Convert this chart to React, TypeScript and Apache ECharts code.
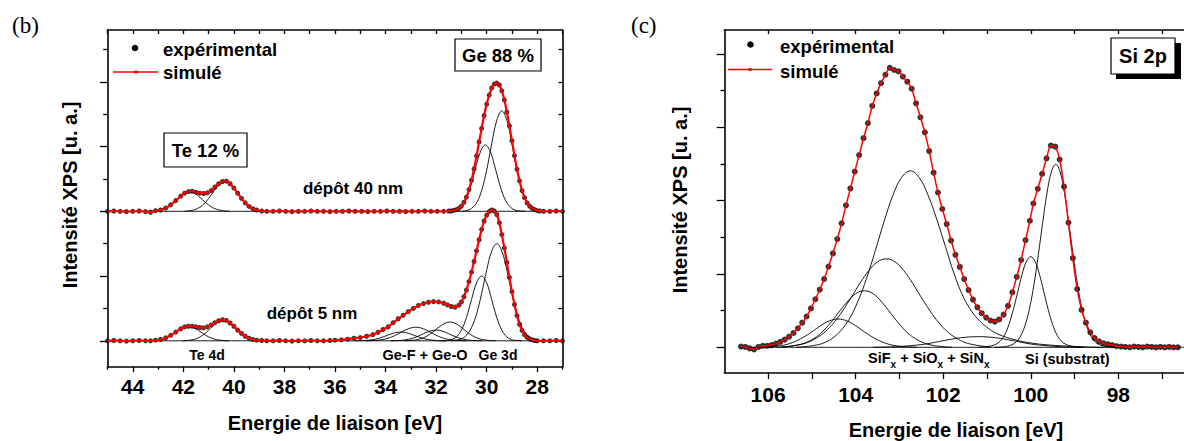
import React, { useEffect, useRef } from "react";
import * as echarts from "echarts";

const FONT = "Arial, 'Liberation Sans', Helvetica, sans-serif";
const SERIF = "'Times New Roman', 'Liberation Serif', serif";

// ---------- tick positions ----------
const geXLabels = [28, 30, 32, 34, 36, 38, 40, 42, 44];
const geXMinor = [27, 29, 31, 33, 35, 37, 39, 41, 43, 45];
const geXAll = [27, 28, 29, 30, 31, 32, 33, 34, 35, 36, 37, 38, 39, 40, 41, 42, 43, 44, 45];
const geYMajor = [0, 2, 4, 6, 8];
const geYMinor = [1, 3, 5, 7, 9];
const geYAll = [0, 1, 2, 3, 4, 5, 6, 7, 8, 9];
const siXLabels = [98, 100, 102, 104, 106];
const siXAll = [97, 98, 99, 100, 101, 102, 103, 104, 105, 106];
const siYMajor = [0, 2, 4, 6, 8];
const siYMinor = [1, 3, 5, 7];

// ---------- (b) Ge/Te spectra: [binding energy eV, intensity] ----------
const expUpper: [number, number][] = [
  [45.0, 4.0], [44.75, 4.01], [44.5, 4.0], [44.25, 3.99], [44.0, 4.0], [43.75, 4.01], [43.5, 3.99], [43.3, 3.97],
  [43.1, 4.02], [42.9, 4.04], [42.7, 4.1], [42.5, 4.2], [42.3, 4.33], [42.1, 4.47], [41.95, 4.56], [41.8, 4.61],
  [41.65, 4.62], [41.5, 4.59], [41.35, 4.56], [41.2, 4.55], [41.05, 4.57], [40.9, 4.64], [40.75, 4.75], [40.6, 4.85],
  [40.45, 4.92], [40.3, 4.93], [40.15, 4.85], [40.0, 4.72], [39.85, 4.56], [39.7, 4.4], [39.55, 4.26], [39.4, 4.15],
  [39.25, 4.08], [39.1, 4.04], [38.9, 4.01], [38.7, 4.0], [38.45, 4.0], [38.2, 4.01], [37.95, 4.0], [37.7, 3.99],
  [37.45, 4.0], [37.2, 4.0], [36.95, 4.01], [36.7, 4.0], [36.45, 4.0], [36.2, 3.99], [35.95, 4.0], [35.7, 4.0],
  [35.45, 4.01], [35.2, 4.0], [34.95, 4.0], [34.7, 3.99], [34.45, 4.0], [34.2, 4.0], [33.95, 4.01], [33.7, 4.0],
  [33.45, 4.0], [33.2, 3.99], [32.95, 4.0], [32.7, 4.0], [32.45, 4.01], [32.2, 4.0], [31.95, 4.0], [31.7, 4.0],
  [31.5, 4.01], [31.4, 4.01], [31.3, 4.03], [31.2, 4.05], [31.1, 4.09], [31.0, 4.16], [30.9, 4.28], [30.8, 4.44],
  [30.7, 4.67], [30.6, 4.96], [30.5, 5.31], [30.4, 5.71], [30.3, 6.14], [30.2, 6.56], [30.1, 6.96], [30.0, 7.31],
  [29.9, 7.59], [29.8, 7.81], [29.7, 7.93], [29.6, 7.96], [29.5, 7.9], [29.4, 7.72], [29.3, 7.44], [29.2, 7.07],
  [29.1, 6.64], [29.0, 6.18], [28.9, 5.72], [28.8, 5.3], [28.7, 4.94], [28.6, 4.64], [28.5, 4.42], [28.4, 4.26],
  [28.3, 4.16], [28.2, 4.09], [28.1, 4.05], [28.0, 4.02], [27.9, 4.01], [27.75, 4.0], [27.5, 4.0], [27.25, 4.01], [27.0, 4.0],
];

const expLower: [number, number][] = [
  [45.0, 0.0], [44.75, 0.01], [44.5, 0.0], [44.25, -0.01], [44.0, 0.0], [43.75, 0.01], [43.5, 0.0], [43.3, 0.0],
  [43.1, 0.02], [42.9, 0.04], [42.7, 0.09], [42.5, 0.17], [42.3, 0.27], [42.1, 0.37], [41.95, 0.43], [41.8, 0.45],
  [41.65, 0.45], [41.5, 0.43], [41.35, 0.41], [41.2, 0.4], [41.05, 0.43], [40.9, 0.49], [40.75, 0.56], [40.6, 0.62],
  [40.45, 0.65], [40.3, 0.63], [40.15, 0.55], [40.0, 0.45], [39.85, 0.33], [39.7, 0.23], [39.55, 0.14], [39.4, 0.08],
  [39.25, 0.04], [39.1, 0.02], [38.9, 0.01], [38.7, 0.0], [38.45, 0.0], [38.2, 0.01], [37.95, 0.0], [37.7, -0.01],
  [37.45, 0.0], [37.2, 0.0], [36.95, 0.01], [36.7, 0.0], [36.45, 0.0], [36.2, 0.01], [36.0, 0.02], [35.75, 0.03],
  [35.5, 0.05], [35.25, 0.08], [35.0, 0.1], [34.75, 0.14], [34.5, 0.19], [34.3, 0.26], [34.1, 0.35], [33.9, 0.43],
  [33.7, 0.56], [33.5, 0.68], [33.3, 0.79], [33.1, 0.9], [32.9, 1.0], [32.7, 1.09], [32.5, 1.15], [32.3, 1.19],
  [32.1, 1.21], [31.9, 1.2], [31.7, 1.16], [31.55, 1.11], [31.4, 1.06], [31.25, 1.04], [31.1, 1.1], [31.0, 1.2],
  [30.9, 1.36], [30.8, 1.57], [30.7, 1.83], [30.6, 2.12], [30.5, 2.45], [30.4, 2.78], [30.3, 3.12], [30.2, 3.44],
  [30.1, 3.7], [30.0, 3.88], [29.9, 3.99], [29.8, 4.04], [29.7, 4.01], [29.6, 3.9], [29.5, 3.65], [29.4, 3.28],
  [29.3, 2.87], [29.2, 2.42], [29.1, 1.96], [29.0, 1.52], [28.9, 1.12], [28.8, 0.78], [28.7, 0.51], [28.6, 0.32],
  [28.5, 0.19], [28.4, 0.11], [28.3, 0.06], [28.2, 0.03], [28.1, 0.01], [28.0, 0.0], [27.75, 0.0], [27.5, 0.0],
  [27.25, 0.01], [27.0, 0.0],
];

const baseUpper: [number, number][] = [[45, 4], [27, 4]];
const baseLower: [number, number][] = [[45, 0], [27, 0]];

const teAUpper: [number, number][] = [
  [43.35, 4], [43.15, 4.012], [42.95, 4.034], [42.75, 4.081], [42.55, 4.167], [42.35, 4.292], [42.15, 4.436], [41.95, 4.554],
  [41.75, 4.6], [41.55, 4.554], [41.35, 4.436], [41.15, 4.292], [40.95, 4.167], [40.75, 4.081], [40.55, 4.034], [40.35, 4.012], [40.15, 4],
];
const teBUpper: [number, number][] = [
  [41.95, 4], [41.75, 4.018], [41.55, 4.052], [41.35, 4.124], [41.15, 4.256], [40.95, 4.448], [40.75, 4.668], [40.55, 4.849],
  [40.35, 4.92], [40.15, 4.849], [39.95, 4.668], [39.75, 4.448], [39.55, 4.256], [39.35, 4.124], [39.15, 4.052], [38.95, 4.018], [38.75, 4],
];
const geAUpper: [number, number][] = [
  [31.0, 4], [30.8, 4.02], [30.6, 4.09], [30.4, 4.26], [30.2, 4.64], [30.0, 5.27], [29.8, 6.09], [29.6, 6.81],
  [29.4, 7.1], [29.2, 6.81], [29.0, 6.09], [28.8, 5.27], [28.6, 4.64], [28.4, 4.26], [28.2, 4.09], [28.0, 4.02], [27.8, 4],
];
const geBUpper: [number, number][] = [
  [31.65, 4], [31.45, 4.01], [31.25, 4.03], [31.05, 4.12], [30.85, 4.33], [30.65, 4.74], [30.45, 5.3], [30.25, 5.83],
  [30.05, 6.05], [29.85, 5.83], [29.65, 5.3], [29.45, 4.74], [29.25, 4.33], [29.05, 4.12], [28.85, 4.03], [28.65, 4.01], [28.45, 4],
];

const teALower: [number, number][] = [
  [43.4, 0], [43.2, 0.009], [43.0, 0.025], [42.8, 0.059], [42.6, 0.122], [42.4, 0.214], [42.2, 0.319], [42.0, 0.406],
  [41.8, 0.44], [41.6, 0.406], [41.4, 0.319], [41.2, 0.214], [41.0, 0.122], [40.8, 0.059], [40.6, 0.025], [40.4, 0.009], [40.2, 0],
];
const teBLower: [number, number][] = [
  [42.02, 0], [41.82, 0.013], [41.62, 0.036], [41.42, 0.086], [41.22, 0.178], [41.02, 0.312], [40.82, 0.465], [40.62, 0.591],
  [40.42, 0.64], [40.22, 0.591], [40.02, 0.465], [39.82, 0.312], [39.62, 0.178], [39.42, 0.086], [39.22, 0.036], [39.02, 0.013], [38.82, 0],
];
const geALower: [number, number][] = [
  [31.4, 0], [31.2, 0.02], [31.0, 0.06], [30.8, 0.17], [30.6, 0.41], [30.4, 0.83], [30.2, 1.46], [30.0, 2.18], [29.8, 2.77],
  [29.6, 3.0], [29.4, 2.77], [29.2, 2.18], [29.0, 1.46], [28.8, 0.83], [28.6, 0.41], [28.4, 0.17], [28.2, 0.06], [28.0, 0.02], [27.8, 0],
];
const geBLower: [number, number][] = [
  [31.8, 0], [31.6, 0.01], [31.4, 0.03], [31.2, 0.12], [31.0, 0.33], [30.8, 0.72], [30.6, 1.27], [30.4, 1.79],
  [30.2, 2.0], [30.0, 1.79], [29.8, 1.27], [29.6, 0.72], [29.4, 0.33], [29.2, 0.12], [29.0, 0.03], [28.8, 0.01], [28.6, 0],
];
const geF1: [number, number][] = [
  [31.6, 0], [31.8, 0.004], [32.0, 0.011], [32.2, 0.025], [32.4, 0.052], [32.6, 0.094], [32.8, 0.149], [33.0, 0.207], [33.2, 0.253],
  [33.4, 0.27], [33.6, 0.253], [33.8, 0.207], [34.0, 0.149], [34.2, 0.094], [34.4, 0.052], [34.6, 0.025], [34.8, 0.011], [35.0, 0.004], [35.2, 0],
];
const geF2: [number, number][] = [
  [30.8, 0], [31.0, 0.005], [31.2, 0.012], [31.4, 0.028], [31.6, 0.057], [31.8, 0.105], [32.0, 0.173], [32.2, 0.255], [32.4, 0.336], [32.6, 0.397],
  [32.8, 0.42], [33.0, 0.397], [33.2, 0.336], [33.4, 0.255], [33.6, 0.173], [33.8, 0.105], [34.0, 0.057], [34.2, 0.028], [34.4, 0.012], [34.6, 0.005], [34.8, 0],
];
const geF3: [number, number][] = [
  [30.2, 0], [30.4, 0.005], [30.6, 0.013], [30.8, 0.031], [31.0, 0.063], [31.2, 0.115], [31.4, 0.182], [31.6, 0.253], [31.8, 0.309],
  [32.0, 0.33], [32.2, 0.309], [32.4, 0.253], [32.6, 0.182], [32.8, 0.115], [33.0, 0.063], [33.2, 0.031], [33.4, 0.013], [33.6, 0.005], [33.8, 0],
];
const geF4: [number, number][] = [
  [29.65, 0], [29.85, 0.009], [30.05, 0.023], [30.25, 0.054], [30.45, 0.111], [30.65, 0.201], [30.85, 0.32], [31.05, 0.445], [31.25, 0.543],
  [31.45, 0.58], [31.65, 0.543], [31.85, 0.445], [32.05, 0.32], [32.25, 0.201], [32.45, 0.111], [32.65, 0.054], [32.85, 0.023], [33.05, 0.009], [33.25, 0],
];

// ---------- (c) Si 2p spectrum ----------
const expSi: [number, number][] = [
  [106.62, 0.02], [106.52, 0.01], [106.42, -0.03], [106.32, -0.06], [106.22, 0.01], [106.12, 0.04], [106.02, 0.04], [105.92, 0.06],
  [105.82, 0.1], [105.72, 0.15], [105.62, 0.21], [105.52, 0.29], [105.42, 0.39], [105.32, 0.52], [105.22, 0.67], [105.12, 0.84],
  [105.02, 1.06], [104.92, 1.31], [104.82, 1.57], [104.72, 1.86], [104.62, 2.2], [104.52, 2.56], [104.42, 2.95], [104.32, 3.38],
  [104.22, 3.87], [104.12, 4.33], [104.02, 4.79], [103.92, 5.24], [103.82, 5.7], [103.72, 6.11], [103.62, 6.58], [103.52, 6.92],
  [103.42, 7.2], [103.32, 7.43], [103.22, 7.62], [103.12, 7.56], [103.02, 7.52], [102.92, 7.38], [102.82, 7.24], [102.72, 7.05],
  [102.62, 6.65], [102.52, 6.27], [102.42, 5.86], [102.32, 5.35], [102.22, 4.76], [102.12, 4.22], [102.02, 3.77], [101.92, 3.36],
  [101.82, 2.91], [101.72, 2.52], [101.62, 2.19], [101.52, 1.86], [101.42, 1.56], [101.32, 1.3], [101.22, 1.09], [101.12, 0.93],
  [101.02, 0.81], [100.92, 0.73], [100.82, 0.7], [100.72, 0.76], [100.62, 0.89], [100.52, 1.13], [100.42, 1.5], [100.32, 1.92],
  [100.22, 2.38], [100.12, 2.92], [100.02, 3.45], [99.94, 3.92], [99.84, 4.32], [99.74, 4.73], [99.64, 5.15], [99.54, 5.5],
  [99.44, 5.47], [99.34, 5.12], [99.24, 4.38], [99.14, 3.4], [99.04, 2.43], [98.94, 1.59], [98.84, 1.02], [98.74, 0.67],
  [98.64, 0.41], [98.54, 0.25], [98.44, 0.16], [98.34, 0.11], [98.24, 0.08], [98.14, 0.06], [98.04, 0.03], [97.94, 0.02],
  [97.84, 0.01], [97.74, 0.0], [97.64, 0.02], [97.54, 0.01], [97.44, 0.0], [97.34, 0.02], [97.24, 0.01], [97.14, 0.0],
  [97.04, 0.01], [96.94, 0.0], [96.84, 0.01], [96.74, 0.0], [96.64, 0.0],
];
const baseSi: [number, number][] = [[106.62, 0], [96.5, 0]];
const siC1: [number, number][] = [
  [98.35, 0], [98.75, 0.01], [99.15, 0.03], [99.55, 0.06], [99.95, 0.11], [100.35, 0.2], [100.75, 0.36], [100.95, 0.5], [101.15, 0.7],
  [101.35, 0.98], [101.55, 1.4], [101.75, 2.0], [101.95, 2.75], [102.15, 3.5], [102.35, 4.16], [102.55, 4.63], [102.75, 4.81],
  [102.95, 4.63], [103.15, 4.14], [103.35, 3.43], [103.55, 2.64], [103.75, 1.88], [103.95, 1.25], [104.15, 0.76], [104.35, 0.44],
  [104.55, 0.23], [104.75, 0.11], [104.95, 0.05], [105.15, 0.02], [105.35, 0.0],
];
const siC2: [number, number][] = [
  [100.9, 0], [101.1, 0.03], [101.3, 0.07], [101.5, 0.13], [101.7, 0.25], [101.9, 0.42], [102.1, 0.67], [102.3, 0.99], [102.5, 1.36],
  [102.7, 1.75], [102.9, 2.09], [103.1, 2.33], [103.3, 2.41], [103.5, 2.33], [103.7, 2.09], [103.9, 1.75], [104.1, 1.36], [104.3, 0.99],
  [104.5, 0.67], [104.7, 0.42], [104.9, 0.25], [105.1, 0.13], [105.3, 0.07], [105.5, 0.03], [105.7, 0],
];
const siC3: [number, number][] = [
  [101.8, 0], [102.0, 0.017], [102.2, 0.045], [102.4, 0.1], [102.6, 0.21], [102.8, 0.38], [103.0, 0.63], [103.2, 0.93], [103.4, 1.23],
  [103.6, 1.46], [103.8, 1.54], [104.0, 1.46], [104.2, 1.23], [104.4, 0.93], [104.6, 0.63], [104.8, 0.38], [105.0, 0.21], [105.2, 0.1],
  [105.4, 0.045], [105.6, 0.017], [105.8, 0],
];
const siC4: [number, number][] = [
  [102.6, 0], [102.8, 0.01], [103.0, 0.03], [103.2, 0.07], [103.4, 0.15], [103.6, 0.27], [103.8, 0.42], [104.0, 0.59], [104.2, 0.72],
  [104.4, 0.77], [104.6, 0.72], [104.8, 0.59], [105.0, 0.42], [105.2, 0.27], [105.4, 0.15], [105.6, 0.07], [105.8, 0.03], [106.0, 0.01], [106.2, 0],
];
const siC5: [number, number][] = [
  [98.8, 0], [99.2, 0.01], [99.6, 0.04], [100.0, 0.09], [100.4, 0.18], [100.8, 0.26], [101.2, 0.29], [101.6, 0.26], [102.0, 0.18],
  [102.4, 0.09], [102.8, 0.04], [103.2, 0.01], [103.6, 0],
];
const siC6: [number, number][] = [
  [98.8, 0], [98.9, 0.01], [99.0, 0.02], [99.1, 0.04], [99.2, 0.08], [99.3, 0.17], [99.4, 0.33], [99.5, 0.62], [99.6, 1.02], [99.7, 1.5],
  [99.8, 1.98], [99.9, 2.34], [100.0, 2.47], [100.1, 2.34], [100.2, 1.98], [100.3, 1.5], [100.4, 1.02], [100.5, 0.62], [100.6, 0.33],
  [100.7, 0.17], [100.8, 0.08], [100.9, 0.04], [101.0, 0.02], [101.1, 0.01], [101.2, 0],
];
const siC7: [number, number][] = [
  [98.03, 0], [98.23, 0.01], [98.33, 0.03], [98.43, 0.07], [98.53, 0.15], [98.63, 0.31], [98.73, 0.6], [98.83, 1.05], [98.93, 1.69],
  [99.03, 2.5], [99.13, 3.38], [99.23, 4.2], [99.33, 4.78], [99.43, 4.99], [99.53, 4.78], [99.63, 4.2], [99.73, 3.38], [99.83, 2.5],
  [99.93, 1.69], [100.03, 1.05], [100.13, 0.6], [100.23, 0.31], [100.33, 0.15], [100.43, 0.07], [100.53, 0.03], [100.63, 0.01], [100.83, 0],
];

// ---------- option builders ----------
function axis(
  gridIndex: number, min: number, max: number, position: string, inverse: boolean,
  tickVals: number[], tickLen: number, inside: boolean, showLine: boolean,
  labelVals?: number[], labelMargin?: number
) {
  return {
    gridIndex, type: "value", min, max, position, inverse, silent: true,
    splitLine: { show: false },
    axisLine: { show: showLine, onZero: false, lineStyle: { color: "#000", width: 1.6 } },
    axisTick: { show: true, inside, length: tickLen, customValues: tickVals, lineStyle: { color: "#000", width: 1.3 } },
    axisLabel: labelVals
      ? { show: true, customValues: labelVals, margin: labelMargin, color: "#000", fontSize: 21, fontWeight: "bold", fontFamily: FONT }
      : { show: false },
  };
}

function comp(data: [number, number][], xi: number, yi: number) {
  return {
    type: "line", data, xAxisIndex: xi, yAxisIndex: yi, smooth: 0.4, symbol: "none", silent: true, z: 1,
    lineStyle: { color: "#000", width: 0.9 },
  };
}
function dots(data: [number, number][], xi: number, yi: number, size: number) {
  return {
    type: "scatter", name: "expérimental", data, xAxisIndex: xi, yAxisIndex: yi, symbol: "circle", symbolSize: size,
    silent: true, z: 2, itemStyle: { color: "#000" },
  };
}
function fit(data: [number, number][], xi: number, yi: number, width: number) {
  return {
    type: "line", name: "simulé", data, xAxisIndex: xi, yAxisIndex: yi, smooth: 0.3, symbol: "none", silent: true, z: 3,
    lineStyle: { color: "#ff0000", width },
  };
}

function txt(text: string, x: number, y: number, size: number, align = "center", extra: any = {}) {
  return {
    type: "text", x, y, z: 100, ...extra,
    style: {
      text, fill: "#000", fontSize: size, fontWeight: "bold", fontFamily: FONT,
      textAlign: align, align, textVerticalAlign: "middle", verticalAlign: "middle",
    },
  };
}
function box(x: number, y: number, w: number, h: number) {
  return { type: "rect", z: 99, shape: { x, y, width: w, height: h }, style: { fill: "#fff", stroke: "#000", lineWidth: 1.2 } };
}

const graphics: any[] = [
  // panel letters
  { type: "text", x: 12, y: 25, z: 100, style: { text: "(b)", fill: "#000", fontSize: 23, fontFamily: SERIF, textAlign: "left", align: "left", textVerticalAlign: "middle", verticalAlign: "middle" } },
  { type: "text", x: 631, y: 25, z: 100, style: { text: "(c)", fill: "#000", fontSize: 23, fontFamily: SERIF, textAlign: "left", align: "left", textVerticalAlign: "middle", verticalAlign: "middle" } },
  // legend (b)
  { type: "circle", z: 100, shape: { cx: 135, cy: 48, r: 3.3 }, style: { fill: "#000" } },
  txt("expérimental", 163, 49, 18.5, "left"),
  { type: "line", z: 100, shape: { x1: 113, y1: 72, x2: 158, y2: 72 }, style: { stroke: "#ff0000", lineWidth: 1.6 } },
  { type: "rect", z: 101, shape: { x: 134.5, y: 70.5, width: 3, height: 3 }, style: { fill: "#ff0000" } },
  txt("simulé", 163, 72, 18.5, "left"),
  // legend (c)
  { type: "circle", z: 100, shape: { cx: 750.5, cy: 44.5, r: 3.3 }, style: { fill: "#000" } },
  txt("expérimental", 780, 46.5, 18.5, "left"),
  { type: "line", z: 100, shape: { x1: 728, y1: 69.5, x2: 772, y2: 69.5 }, style: { stroke: "#ff0000", lineWidth: 1.6 } },
  { type: "rect", z: 101, shape: { x: 748.5, y: 68, width: 3, height: 3 }, style: { fill: "#ff0000" } },
  txt("simulé", 780, 71.5, 18.5, "left"),
  // boxes (b)
  box(455, 39, 86, 32),
  txt("Ge 88 %", 498, 55, 18.5),
  box(164, 133, 83, 34),
  txt("Te 12 %", 205.5, 150, 18.5),
  // box (c) with shadow
  { type: "rect", z: 98, shape: { x: 1116, y: 43, width: 65, height: 36 }, style: { fill: "#000" } },
  box(1111, 38, 64, 36),
  txt("Si 2p", 1143, 56, 20),
  // annotations (b)
  txt("dépôt 40 nm", 353, 188, 17),
  txt("dépôt 5 nm", 312, 313, 17),
  txt("Te 4d", 207, 355, 14),
  txt("Ge-F + Ge-O", 425, 355, 14.5),
  txt("Ge 3d", 498, 355, 14),
  // annotations (c)
  {
    type: "text", x: 868, y: 360, z: 100,
    style: {
      text: "{n|SiF}{s|x}{n| + SiO}{s|x}{n| + SiN}{s|x}",
      textAlign: "left", align: "left", textVerticalAlign: "middle", verticalAlign: "middle",
      rich: {
        n: { fontSize: 14.5, fontWeight: "bold", fontFamily: FONT, fill: "#000", color: "#000", verticalAlign: "bottom", padding: [0, 0, 4, 0] },
        s: { fontSize: 10, fontWeight: "bold", fontFamily: FONT, fill: "#000", color: "#000", verticalAlign: "bottom" },
      },
    },
  },
  txt("Si (substrat)", 1025, 359, 14.5, "left"),
  // axis titles
  txt("Energie de liaison [eV]", 335, 423, 20),
  txt("Energie de liaison [eV]", 956, 430, 20),
  txt("Intensité XPS [u. a.]", 70, 195, 20, "center", { rotation: Math.PI / 2 }),
  txt("Intensité XPS [u. a.]", 680, 200, 20, "center", { rotation: Math.PI / 2 }),
];

const option: any = {
  animation: false,
  backgroundColor: "#fff",
  textStyle: { fontFamily: FONT },
  grid: [
    { left: 107.5, top: 30, width: 455, height: 336.7 },
    { left: 724.3, top: 30, width: 487.7, height: 342.5 },
  ],
  xAxis: [
    axis(0, 27, 45, "bottom", true, geXLabels, 5.5, false, true, geXLabels, 9),
    axis(0, 27, 45, "bottom", true, geXMinor, 3, false, false),
    axis(0, 27, 45, "top", true, geXAll, 4, true, true),
    axis(1, 96.5, 107, "bottom", true, siXAll, 6.5, false, true, siXLabels, 11),
    axis(1, 96.5, 107, "top", true, siXAll, 4, true, true),
  ],
  yAxis: [
    axis(0, -0.8, 9.6, "left", false, geYMajor, 7.5, false, true),
    axis(0, -0.8, 9.6, "left", false, geYMinor, 4.3, false, false),
    axis(0, -0.8, 9.6, "right", false, geYAll, 4, true, true),
    axis(1, -0.687, 8.65, "left", false, siYMajor, 7.6, false, true),
    axis(1, -0.687, 8.65, "left", false, siYMinor, 3.8, false, false),
  ],
  series: [
    comp(baseUpper, 0, 0), comp(baseLower, 0, 0),
    comp(teAUpper, 0, 0), comp(teBUpper, 0, 0), comp(geAUpper, 0, 0), comp(geBUpper, 0, 0),
    comp(teALower, 0, 0), comp(teBLower, 0, 0), comp(geALower, 0, 0), comp(geBLower, 0, 0),
    comp(geF1, 0, 0), comp(geF2, 0, 0), comp(geF3, 0, 0), comp(geF4, 0, 0),
    dots(expUpper, 0, 0, 5), dots(expLower, 0, 0, 5),
    fit(expUpper, 0, 0, 2.2), fit(expLower, 0, 0, 2.2),
    comp(baseSi, 3, 3), comp(siC1, 3, 3), comp(siC2, 3, 3), comp(siC3, 3, 3), comp(siC4, 3, 3),
    comp(siC5, 3, 3), comp(siC6, 3, 3), comp(siC7, 3, 3),
    dots(expSi, 3, 3, 6),
    fit(expSi, 3, 3, 1.5),
  ],
  graphic: { elements: graphics },
};

export default function App() {
  const ref = useRef<HTMLDivElement>(null);
  useEffect(() => {
    if (!ref.current) return;
    const chart = echarts.init(ref.current, null, { renderer: "svg" });
    chart.setOption(option);
    return () => chart.dispose();
  }, []);
  return (
    <div
      ref={ref}
      style={{ position: "fixed", left: 0, top: 0, width: 1184, height: 441, overflow: "hidden", background: "#fff" }}
    />
  );
}
